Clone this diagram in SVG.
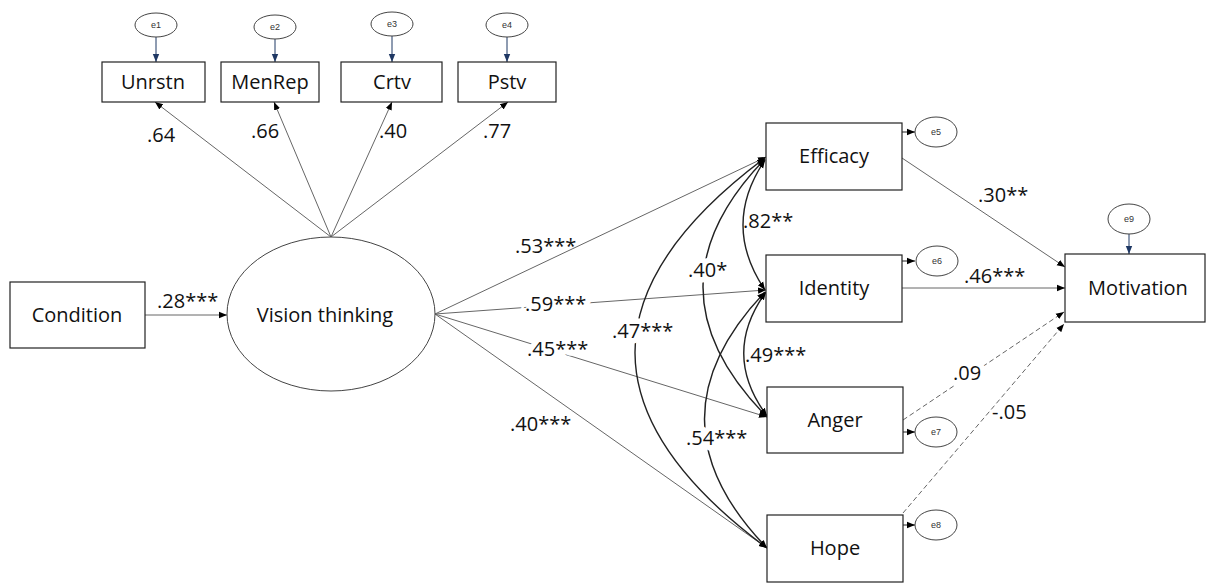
<svg xmlns="http://www.w3.org/2000/svg" width="1208" height="583" viewBox="0 0 1208 583">
<defs>
<marker id="ah" viewBox="0 0 10 10" refX="10" refY="5" markerWidth="8" markerHeight="8" markerUnits="userSpaceOnUse" orient="auto-start-reverse">
<path d="M0,1 L10,5 L0,9 z" fill="#000"/>
</marker>
<marker id="ahn" viewBox="0 0 10 10" refX="10" refY="5" markerWidth="8" markerHeight="8" markerUnits="userSpaceOnUse" orient="auto">
<path d="M0,1 L10,5 L0,9 z" fill="#1f3864"/>
</marker>
</defs>
<style>
.box{fill:#fff;stroke:#222;stroke-width:1.2}
.ell{fill:#fff;stroke:#444;stroke-width:1}
.lbl{font-family:"Open Sans","Liberation Sans",sans-serif;font-size:20px;fill:#111;text-anchor:middle}
.num{font-family:"Open Sans","Liberation Sans",sans-serif;font-size:20px;fill:#111}
.halo{paint-order:stroke;stroke:#fff;stroke-width:11px;stroke-linejoin:round}
.elbl{font-family:"Liberation Sans",sans-serif;font-size:9px;fill:#333;text-anchor:middle}
.ln{fill:none;stroke:#666;stroke-width:1;marker-end:url(#ah)}
.cov{fill:none;stroke:#222;stroke-width:1.4;marker-start:url(#ah);marker-end:url(#ah)}
.dash{fill:none;stroke:#666;stroke-width:1;stroke-dasharray:5,3;marker-end:url(#ah)}
.err{fill:none;stroke:#1f3864;stroke-width:1;marker-end:url(#ahn)}
.errk{fill:none;stroke:#222;stroke-width:1;marker-end:url(#ah)}
</style>
<rect width="1208" height="583" fill="#fff"/>

<g id="connectors">
<!-- error arrows -->
<line class="err" x1="156" y1="37" x2="156" y2="62"/>
<line class="err" x1="275" y1="39" x2="275" y2="62"/>
<line class="err" x1="392" y1="36" x2="392" y2="62"/>
<line class="err" x1="507" y1="37" x2="507" y2="62"/>
<line class="err" x1="1129" y1="234" x2="1129" y2="254"/>
<line class="errk" x1="902" y1="132" x2="915" y2="132"/>
<line class="errk" x1="902" y1="261" x2="915" y2="261"/>
<line class="errk" x1="903" y1="432" x2="915" y2="432"/>
<line class="errk" x1="903" y1="525" x2="915" y2="525"/>
<!-- loadings -->
<line class="ln" x1="331" y1="237" x2="155" y2="102"/>
<line class="ln" x1="331" y1="237" x2="274" y2="102"/>
<line class="ln" x1="331" y1="237" x2="392" y2="102"/>
<line class="ln" x1="331" y1="237" x2="508" y2="102"/>
<!-- condition -->
<line class="ln" x1="145" y1="315" x2="227" y2="315"/>
<!-- vision paths -->
<line class="ln" x1="435" y1="314" x2="766" y2="157"/>
<line class="ln" x1="435" y1="314" x2="766" y2="290"/>
<line class="ln" x1="435" y1="314" x2="767" y2="417"/>
<line class="ln" x1="435" y1="314" x2="767" y2="548"/>
<!-- covariances -->
<path class="cov" d="M765,160 Q721,225 765,290"/>
<path class="cov" d="M765,159 Q640,288 767,417"/>
<path class="cov" d="M765,158 Q504,353 767,548"/>
<path class="cov" d="M766,292 Q721,354 767,416"/>
<path class="cov" d="M765,292 Q643,420 767,548"/>
<!-- to motivation -->
<line class="ln" x1="902" y1="158" x2="1065" y2="267"/>
<line class="ln" x1="902" y1="288" x2="1065" y2="288"/>
<line class="dash" x1="903" y1="420" x2="1064" y2="312"/>
<line class="dash" x1="903" y1="513" x2="1064" y2="324"/>
</g>

<g id="labels">
<text class="num" x="147" y="142">.64</text>
<text class="num" x="251" y="138">.66</text>
<text class="num" x="379" y="138">.40</text>
<text class="num" x="483" y="138">.77</text>
<text class="num" x="157" y="308">.28***</text>
<text class="num" x="515" y="253">.53***</text>
<text class="num halo" x="525" y="311">.59***</text>
<text class="num halo" x="527" y="356">.45***</text>
<text class="num" x="510" y="431">.40***</text>
<text class="num" x="743" y="228">.82**</text>
<text class="num halo" x="688" y="277">.40*</text>
<text class="num halo" x="612" y="338">.47***</text>
<text class="num" x="745" y="362">.49***</text>
<text class="num halo" x="686" y="445">.54***</text>
<text class="num" x="978" y="202">.30**</text>
<text class="num" x="964" y="283">.46***</text>
<text class="num halo" x="953" y="380">.09</text>
<text class="num" x="992" y="419">-.05</text>
</g>

<g id="e1"><ellipse class="ell" cx="156" cy="25" rx="21" ry="12"/><text class="elbl" x="156" y="28">e1</text></g>
<g id="e2"><ellipse class="ell" cx="275" cy="27" rx="21" ry="12"/><text class="elbl" x="275" y="30">e2</text></g>
<g id="e3"><ellipse class="ell" cx="392" cy="24" rx="21" ry="12"/><text class="elbl" x="392" y="27">e3</text></g>
<g id="e4"><ellipse class="ell" cx="507" cy="25" rx="21" ry="12"/><text class="elbl" x="507" y="28">e4</text></g>
<g id="e5"><ellipse class="ell" cx="936" cy="132" rx="21" ry="15"/><text class="elbl" x="936" y="135">e5</text></g>
<g id="e6"><ellipse class="ell" cx="937" cy="261" rx="21" ry="15"/><text class="elbl" x="937" y="264">e6</text></g>
<g id="e7"><ellipse class="ell" cx="936" cy="432" rx="21" ry="15"/><text class="elbl" x="936" y="435">e7</text></g>
<g id="e8"><ellipse class="ell" cx="936" cy="525" rx="21" ry="15"/><text class="elbl" x="936" y="528">e8</text></g>
<g id="e9"><ellipse class="ell" cx="1129" cy="219" rx="21" ry="15"/><text class="elbl" x="1129" y="222">e9</text></g>

<g id="Unrstn"><rect class="box" x="102" y="62" width="103" height="40"/><text class="lbl" x="153" y="89">Unrstn</text></g>
<g id="MenRep"><rect class="box" x="221" y="62" width="98" height="40"/><text class="lbl" x="270" y="89">MenRep</text></g>
<g id="Crtv"><rect class="box" x="341" y="62" width="101" height="40"/><text class="lbl" x="392" y="89">Crtv</text></g>
<g id="Pstv"><rect class="box" x="458" y="62" width="98" height="40"/><text class="lbl" x="507" y="89">Pstv</text></g>
<g id="Condition"><rect class="box" x="10" y="282" width="135" height="66"/><text class="lbl" x="77" y="322">Condition</text></g>
<g id="VisionThinking"><ellipse class="ell" cx="331" cy="314" rx="104" ry="77"/><text class="lbl" x="325" y="322">Vision thinking</text></g>
<g id="Efficacy"><rect class="box" x="766" y="123" width="136" height="67"/><text class="lbl" x="834" y="163">Efficacy</text></g>
<g id="Identity"><rect class="box" x="766" y="255" width="136" height="67"/><text class="lbl" x="834" y="295">Identity</text></g>
<g id="Anger"><rect class="box" x="767" y="387" width="136" height="66"/><text class="lbl" x="835" y="427">Anger</text></g>
<g id="Hope"><rect class="box" x="767" y="515" width="136" height="67"/><text class="lbl" x="835" y="555">Hope</text></g>
<g id="Motivation"><rect class="box" x="1065" y="254" width="140" height="68"/><text class="lbl" x="1138" y="295">Motivation</text></g>
</svg>
